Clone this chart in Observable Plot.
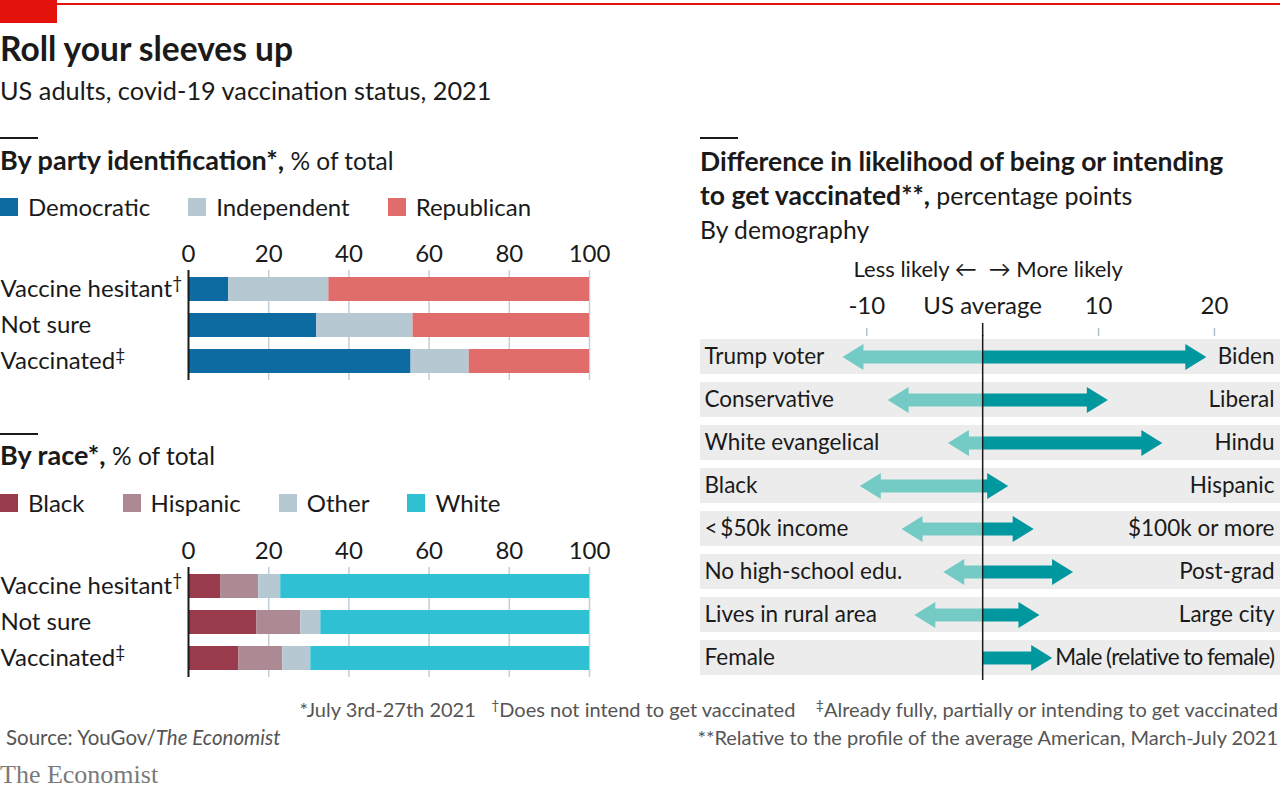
<!DOCTYPE html>
<html><head><meta charset="utf-8">
<script src="https://cdn.jsdelivr.net/npm/d3@7"></script>
<script src="https://cdn.jsdelivr.net/npm/@observablehq/plot@0.6"></script>
<style>
html,body{margin:0;padding:0;background:#fff;}
body{width:1280px;height:792px;position:relative;overflow:hidden;font-family:Lato,"Noto Sans",sans-serif;color:#1a1a1a;}
.t{position:absolute;white-space:nowrap;line-height:1;}
.b{font-weight:700;}
.rule{position:absolute;height:2px;background:#1a1a1a;width:38px;}
.legend{position:absolute;display:flex;align-items:center;font-size:24px;line-height:1;white-space:nowrap;}
.legend .it{display:flex;align-items:center;margin-right:38px;}
.legend .sw{width:18px;height:18px;margin-right:10px;}
.foot{position:absolute;right:2px;font-size:20px;color:#555;white-space:nowrap;line-height:1;text-align:right;}
sup{font-size:0.7em;line-height:0;vertical-align:0.5em;}
svg{overflow:visible;}
</style></head><body>
<script>
// ---------- data ----------
const statusRows = ["Vaccine hesitant\u2020", "Not sure", "Vaccinated\u2021"];

const partyKeys = ["Democratic", "Independent", "Republican"];
const partyColors = ["#0d6ba1", "#b6c8d2", "#e06d6c"];
const democratic = [10, 32, 55.5];
const independent = [25, 24, 14.5];
const republican = [65, 44, 30];

const raceKeys = ["Black", "Hispanic", "Other", "White"];
const raceColors = ["#9a3b4d", "#ad8a93", "#b6c8d2", "#30c0d3"];
const black = [8, 17, 12.5];
const hispanic = [9.5, 11, 11];
const other = [5.5, 5, 7];
const white = [77, 67, 69.5];

const barTicks = [0, 20, 40, 60, 80, 100];

const demoLess = ["Trump voter", "Conservative", "White evangelical", "Black", "<\u2009$50k income", "No high-school edu.", "Lives in rural area", "Female"];
const demoMore = ["Biden", "Liberal", "Hindu", "Hispanic", "$100k or more", "Post-grad", "Large city", "Male (relative to female)"];
const lessLikely = [-12.1, -8.2, -3.0, -10.6, -7.0, -3.4, -5.9, 0];
const moreLikely = [19.3, 10.8, 15.5, 2.2, 4.4, 7.8, 4.9, 6.0];
const diffTicks = [-10, 0, 10, 20];
const diffTickLabels = ["-10", "US average", "10", "20"];
const diffDomain = [-24.35, 25.7];

// ---------- helpers ----------
const NS = "http://www.w3.org/2000/svg";
function supDaggers(svg) {
  svg.querySelectorAll("text").forEach(t => {
    const s = t.textContent;
    const m = s.match(/[\u2020\u2021]$/);
    if (m && t.childElementCount === 0) {
      t.textContent = s.slice(0, -1);
      const ts = document.createElementNS(NS, "tspan");
      ts.textContent = m[0];
      ts.setAttribute("font-size", "0.72em");
      ts.setAttribute("dy", "-0.5em");
      t.appendChild(ts);
    }
  });
}
function tighten(svg, prefix) {
  svg.querySelectorAll("text").forEach(t => {
    if (t.textContent.startsWith(prefix)) {
      t.style.letterSpacing = "-0.6px";
      t.style.wordSpacing = "-1px";
    }
  });
}
function put(el, left, top) {
  el.style.position = "absolute";
  el.style.left = left + "px";
  el.style.top = top + "px";
  document.body.appendChild(el);
  return el;
}
function textAt(html, left, baseline, size, cls = "") {
  const d = document.createElement("div");
  d.className = "t " + cls;
  d.style.fontSize = size + "px";
  d.innerHTML = html;
  return put(d, left, baseline - 0.887 * size);
}
function rule(left, top) {
  const d = document.createElement("div");
  d.className = "rule";
  return put(d, left, top);
}
function legend(keys, colors, left, top) {
  const d = document.createElement("div");
  d.className = "legend";
  d.innerHTML = keys.map((k, i) => `<span class="it"><span class="sw" style="background:${colors[i]}"></span>${k}</span>`).join("");
  return put(d, left, top);
}

const plotStyle = {fontFamily: "Lato, 'Noto Sans', sans-serif", fontSize: "24px", color: "#1a1a1a", background: "transparent", overflow: "visible"};

function stackedChart(keys, colors, series) {
  const table = statusRows.flatMap((r, i) => keys.map((k, j) => ({row: r, key: k, value: series[j][i]})));
  const svg = Plot.plot({
    width: 620, height: 146,
    marginLeft: 188, marginRight: 31, marginTop: 34, marginBottom: 2,
    style: plotStyle,
    x: {domain: [0, 100]},
    y: {domain: statusRows, paddingInner: 0.32, paddingOuter: 0.15, axis: null},
    color: {domain: keys, range: colors},
    marks: [
      Plot.ruleX(barTicks.slice(1), {stroke: "#c3ced5", strokeWidth: 1.5}),
      Plot.barX(table, Plot.stackX({x: "value", y: "row", fill: "key"})),
      Plot.ruleX([0], {stroke: "#1a1a1a", strokeWidth: 2}),
      Plot.axisX({anchor: "top", ticks: barTicks, tickSize: 0, tickPadding: 9, label: null, tickFormat: d => String(d)}),
      Plot.text(statusRows, {y: d => d, text: d => d, frameAnchor: "left", dx: -188, textAnchor: "start"})
    ]
  });
  supDaggers(svg);
  return svg;
}

// ---------- header ----------
const topLine = document.createElement("div");
topLine.style.cssText = "position:absolute;left:0;top:3px;width:1280px;height:2px;background:#e3120b;";
document.body.appendChild(topLine);
const topBlock = document.createElement("div");
topBlock.style.cssText = "position:absolute;left:0;top:0;width:57px;height:23px;background:#e3120b;";
document.body.appendChild(topBlock);

textAt("Roll your sleeves up", 0, 62, 33.5, "b");
textAt("US adults, covid-19 vaccination status, 2021", 0, 100, 25.3);

// ---------- left: party ----------
rule(0, 137);
textAt('<span class="b" style="font-size:27px">By party identification*,</span> <span style="font-size:24.5px">% of total</span>', 0, 168, 25);
legend(partyKeys, partyColors, 0, 195);
put(stackedChart(partyKeys, partyColors, [democratic, independent, republican]), 0, 236);

// ---------- left: race ----------
rule(0, 433);
textAt('<span class="b" style="font-size:27px">By race*,</span> <span style="font-size:24.5px">% of total</span>', 0, 463, 25);
legend(raceKeys, raceColors, 0, 491);
put(stackedChart(raceKeys, raceColors, [black, hispanic, other, white]), 0, 533);

// ---------- right: demography ----------
rule(700, 137);
textAt('<span class="b" style="font-size:26.5px">Difference in likelihood of being or intending</span>', 700, 170, 25);
textAt('<span class="b" style="font-size:26.5px">to get vaccinated**,</span> percentage points', 700, 204, 25);
textAt('By demography', 700, 240, 24.7);

const demo = demoLess.map((l, i) => ({less: l, more: demoMore[i], lo: lessLikely[i], hi: moreLikely[i]}));
const darkTeal = "#00979e", lightTeal = "#74cac5";
const shaftStop = 1.5;
const headRight = {draw(c) { c.moveTo(0, 0); c.lineTo(-21, -13); c.lineTo(-21, 13); c.closePath(); }};
const headLeft = {draw(c) { c.moveTo(0, 0); c.lineTo(21, -13); c.lineTo(21, 13); c.closePath(); }};

const diffSvg = Plot.plot({
  width: 580, height: 432,
  marginLeft: 0, marginRight: 0, marginTop: 85, marginBottom: 2,
  style: plotStyle,
  x: {domain: diffDomain},
  y: {domain: demoLess, paddingInner: 0.186, paddingOuter: 0.093, axis: null},
  marks: [
    Plot.barX(demo, {y: "less", x1: () => diffDomain[0], x2: () => diffDomain[1], fill: "#ececec"}),
    Plot.ruleY(demo.filter(d => d.lo < 0), {y: "less", x1: () => 0, x2: d => d.lo + shaftStop, stroke: lightTeal, strokeWidth: 13}),
    Plot.ruleY(demo.filter(d => d.hi > 0), {y: "less", x1: () => 0, x2: d => d.hi - shaftStop, stroke: darkTeal, strokeWidth: 13}),
    Plot.dot(demo.filter(d => d.lo < 0), {x: "lo", y: "less", symbol: headLeft, fill: lightTeal, stroke: "none"}),
    Plot.dot(demo.filter(d => d.hi > 0), {x: "hi", y: "less", symbol: headRight, fill: darkTeal, stroke: "none"}),
    Plot.ruleX([0], {stroke: "#1a1a1a", strokeWidth: 1.5}),
    Plot.axisX({anchor: "top", ticks: diffTicks.filter(d => d !== 0), tickSize: 8, label: null, tickFormat: () => "", stroke: "#b3c2ca", strokeWidth: 1.5}),
    Plot.axisX({anchor: "top", ticks: [0], tickSize: 13, label: null, tickFormat: () => "", stroke: "#1a1a1a", strokeWidth: 1.5}),
    Plot.axisX({anchor: "top", ticks: diffTicks, tickSize: 0, tickPadding: 22, label: null, tickFormat: d => diffTickLabels[diffTicks.indexOf(d)]}),
    Plot.text(["Less likely \u2190"], {x: () => 0, text: d => d, frameAnchor: "top", dy: -74, dx: -6, textAnchor: "end", fontSize: 22}),
    Plot.text(["\u2192 More likely"], {x: () => 0, text: d => d, frameAnchor: "top", dy: -74, dx: 6, textAnchor: "start", fontSize: 22}),
    Plot.text(demo, {y: "less", text: "less", frameAnchor: "left", dx: 4, textAnchor: "start", fontSize: 22.5}),
    Plot.text(demo, {y: "less", text: "more", frameAnchor: "right", dx: -6, textAnchor: "end", fontSize: 22.5})
  ]
});
tighten(diffSvg, "Male");
put(diffSvg, 700, 250);

// ---------- footer ----------
const f1 = document.createElement("div");
f1.className = "foot";
f1.innerHTML = '*July 3rd-27th 2021&nbsp;&nbsp; <sup>\u2020</sup>Does not intend to get vaccinated&nbsp;&nbsp;&nbsp; <sup>\u2021</sup>Already fully, partially or intending to get vaccinated';
f1.style.top = (717 - 0.887 * 20) + "px";
document.body.appendChild(f1);
const f2 = document.createElement("div");
f2.className = "foot";
f2.innerHTML = '**Relative to the profile of the average American, March-July 2021';
f2.style.top = (745 - 0.887 * 20) + "px";
document.body.appendChild(f2);

const src = textAt('Source: YouGov/<i>The Economist</i>', 6, 745, 20.5);
src.style.color = "#555";
const logo = document.createElement("div");
logo.className = "t";
logo.style.cssText += "font-family:'Liberation Serif','DejaVu Serif',serif;font-size:26px;color:#7a7a7a;";
logo.textContent = "The Economist";
put(logo, 0, 784 - 0.84 * 26);
</script>
</body></html>
